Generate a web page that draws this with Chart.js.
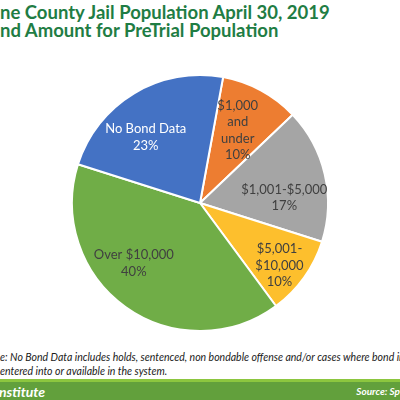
<!DOCTYPE html>
<html>
<head>
<meta charset="utf-8">
<script src="https://cdn.jsdelivr.net/npm/chart.js@4.4.1/dist/chart.umd.min.js"></script>
<style>
  html, body { margin: 0; padding: 0; width: 400px; height: 400px; overflow: hidden; background: #fff; }
  .abs { position: absolute; white-space: nowrap; }
  #title { left: 0; top: 3px; font: bold 18.5px Lato, sans-serif; color: #1f7d44; line-height: 18px; }
  #chartBox { position: absolute; left: 0; top: 74px; width: 400px; height: 258px; }
  #note { left: 0; top: 351px; font: italic 10.5px Lato, sans-serif; color: #1a1a1a; line-height: 13.5px; }
  #bar { position: absolute; left: 0; top: 379px; width: 400px; height: 21px; background: #62a03c; border-top: 3px solid #8cc63f; box-sizing: border-box; }
  #inst { left: -1px; top: 383px; font: italic bold 14px Lato, sans-serif; color: #fff; }
  #src { right: 0; top: 385px; font: italic bold 10px Lato, sans-serif; color: #fff; }
</style>
</head>
<body>
<div id="title" class="abs">ne County Jail Population April 30, 2019<br>nd Amount for PreTrial Population</div>
<div id="chartBox"><canvas id="c"></canvas></div>
<div id="note" class="abs">e: No Bond Data includes holds, sentenced, non bondable offense and/or cases where bond inf<br>entered into or available in the system.</div>
<div id="bar"></div>
<div id="inst" class="abs">nstitute</div>
<div id="src" class="abs">Source: Sp</div>
<script>
// ---- data ----
const categories = ["$1,000 and under", "$1,001-$5,000", "$5,001-$10,000", "Over $10,000", "No Bond Data"];
const percents = [10, 17, 10, 40, 23];
const labelLines = [
  ["$1,000", "and", "under"],
  ["$1,001-$5,000"],
  ["$5,001-", "$10,000"],
  ["Over $10,000"],
  ["No Bond Data"]
];
// ---- style ----
const colors = ["#ED7D31", "#A5A5A5", "#FDBF2D", "#70AD47", "#4472C4"];
const textColors = ["#404040", "#404040", "#404040", "#404040", "#ffffff"];
const labelRadiusFrac = [0.64, 0.66, 0.79, 0.70, 0.665];
const labelAngleShift = [-1, 9.6, 2.6, 12, -8.6];

const labelPlugin = {
  id: 'sliceLabels',
  afterDatasetsDraw(chart) {
    const ctx = chart.ctx;
    const meta = chart.getDatasetMeta(0);
    ctx.save();
    ctx.font = '13px Lato, sans-serif';
    ctx.textAlign = 'center';
    ctx.textBaseline = 'middle';
    const lh = 16.5;
    meta.data.forEach((arc, i) => {
      const p = arc.getProps(['x', 'y', 'startAngle', 'endAngle', 'outerRadius'], true);
      const mid = (p.startAngle + p.endAngle) / 2 + labelAngleShift[i] * Math.PI / 180;
      const r = p.outerRadius * labelRadiusFrac[i];
      const cx = p.x + Math.cos(mid) * r;
      const cy = p.y + Math.sin(mid) * r;
      const lines = labelLines[i].concat([percents[i] + '%']);
      const y0 = cy - (lines.length - 1) * lh / 2;
      ctx.fillStyle = textColors[i];
      lines.forEach((t, k) => ctx.fillText(t, cx, y0 + k * lh));
    });
    ctx.restore();
  }
};

new Chart(document.getElementById('c'), {
  type: 'pie',
  data: {
    labels: categories,
    datasets: [{
      data: percents,
      backgroundColor: colors,
      borderColor: '#ffffff',
      borderWidth: 2,
      hoverOffset: 0
    }]
  },
  options: {
    responsive: true,
    maintainAspectRatio: false,
    animation: false,
    rotation: 10.4,
    layout: { padding: 0 },
    plugins: {
      legend: { display: false },
      tooltip: { enabled: false },
      title: { display: false }
    },
    events: []
  },
  plugins: [labelPlugin]
});
</script>
</body>
</html>
